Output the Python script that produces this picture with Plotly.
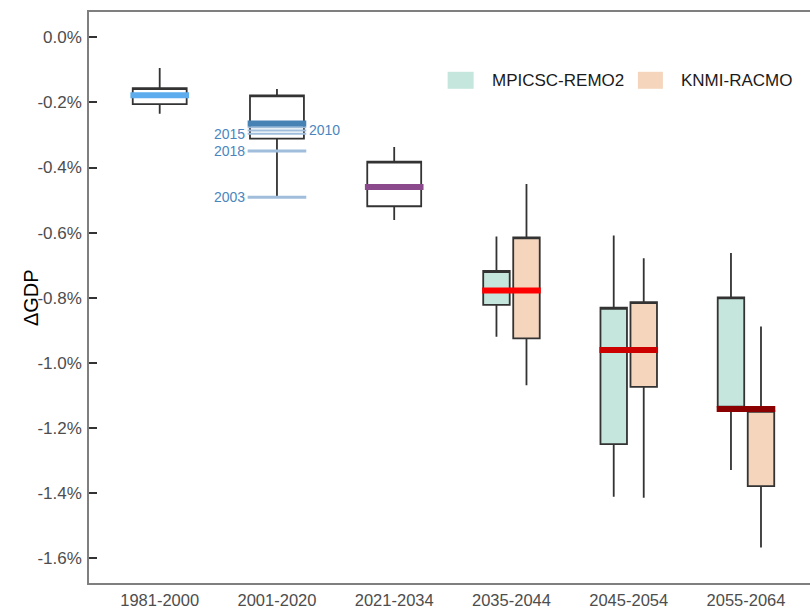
import plotly.graph_objects as go

# ---------------- data (values in % of GDP) ----------------
categories = ["1981-2000", "2001-2020", "2021-2034", "2035-2044", "2045-2054", "2055-2064"]

# single (observed / near-term) boxes: index of category
single_idx = [0, 1, 2]
single_upper = [-0.094, -0.159, -0.337]
single_q3 = [-0.156, -0.178, -0.382]
single_q1 = [-0.205, -0.311, -0.519]
single_lower = [-0.235, -0.491, -0.561]

# paired model boxes (categories 3..5)
pair_idx = [3, 4, 5]
remo_upper = [-0.612, -0.609, -0.663]
remo_q3 = [-0.718, -0.831, -0.799]
remo_q1 = [-0.822, -1.250, -1.135]
remo_lower = [-0.920, -1.412, -1.330]

racmo_upper = [-0.451, -0.679, -0.889]
racmo_q3 = [-0.615, -0.814, -1.148]
racmo_q1 = [-0.925, -1.074, -1.379]
racmo_lower = [-1.069, -1.415, -1.568]

# ensemble medians per category
medians = [-0.178, -0.265, -0.460, -0.778, -0.961, -1.142]
median_colors = ["#5CACEE", "#4682B4", "#8B4A8B", "#FF0000", "#CD0000", "#8B0000"]

# individual-year markers in the 2001-2020 period
year_labels = ["", "2010", "2015", "2018", "2003"]
year_values = [-0.276, -0.286, -0.296, -0.349, -0.491]
year_side = ["left", "right", "left", "left", "left"]
year_widths = [2, 2, 2, 3, 3]

y_tick_vals = [0.0, -0.2, -0.4, -0.6, -0.8, -1.0, -1.2, -1.4, -1.6]
y_tick_text = ["0.0%", "-0.2%", "-0.4%", "-0.6%", "-0.8%", "-1.0%", "-1.2%", "-1.4%", "-1.6%"]

series_names = ["MPICSC-REMO2", "KNMI-RACMO"]
series_fill = ["#C5E6DC", "#F5D6BD"]

# ---------------- styles ----------------
BOX_LINE = "#333333"
SINGLE_W = 0.46
PAIR_W = 0.226
PAIR_OFF = 0.128
MED_HALF = 0.25
YEAR_COLOR = "#A0BEDC"
YEAR_TEXT = "#4A86BE"
FONT = "Liberation Sans, Arial, sans-serif"

fig = go.Figure()


def add_box(x, lower, q1, q3, upper, width, fill):
    fig.add_trace(go.Box(
        x=[x], q1=[q1], median=[q3], q3=[q3],
        lowerfence=[lower], upperfence=[upper],
        width=width, whiskerwidth=0,
        fillcolor=fill, line=dict(color=BOX_LINE, width=1.8),
        boxpoints=False, showlegend=False, hoverinfo="skip",
    ))


for i, lo, a, b, up in zip(single_idx, single_lower, single_q1, single_q3, single_upper):
    add_box(i, lo, a, b, up, SINGLE_W, "rgba(255,255,255,0)")

for i, lo, a, b, up in zip(pair_idx, remo_lower, remo_q1, remo_q3, remo_upper):
    add_box(i - PAIR_OFF, lo, a, b, up, PAIR_W, series_fill[0])

for i, lo, a, b, up in zip(pair_idx, racmo_lower, racmo_q1, racmo_q3, racmo_upper):
    add_box(i + PAIR_OFF, lo, a, b, up, PAIR_W, series_fill[1])

# individual year lines (2001-2020, index 1)
for lab, v, side, w in zip(year_labels, year_values, year_side, year_widths):
    fig.add_trace(go.Scatter(
        x=[1 - MED_HALF, 1 + MED_HALF], y=[v, v], mode="lines",
        line=dict(color=YEAR_COLOR, width=w), showlegend=False, hoverinfo="skip",
    ))

# ensemble median lines
for i, (m, c) in enumerate(zip(medians, median_colors)):
    fig.add_trace(go.Scatter(
        x=[i - MED_HALF, i + MED_HALF], y=[m, m], mode="lines",
        line=dict(color=c, width=6), showlegend=False, hoverinfo="skip",
    ))

annotations = []
for lab, v, side in zip(year_labels, year_values, year_side):
    if not lab:
        continue
    if side == "left":
        annotations.append(dict(x=1 - MED_HALF, y=v, xref="x", yref="y", text=lab,
                                showarrow=False, xanchor="right", yanchor="middle",
                                xshift=-1, font=dict(size=14, color=YEAR_TEXT, family=FONT)))
    else:
        annotations.append(dict(x=1 + MED_HALF, y=v, xref="x", yref="y", text=lab,
                                showarrow=False, xanchor="left", yanchor="middle",
                                xshift=1, font=dict(size=14, color=YEAR_TEXT, family=FONT)))

# y axis title
annotations.append(dict(x=-0.081, y=0.5, xref="paper", yref="paper", text="ΔGDP",
                        showarrow=False, textangle=-90, xanchor="center", yanchor="middle",
                        font=dict(size=20, color="#000000", family=FONT)))

# manual legend
shapes = []
leg_sq_x = [(0.4974, 0.5335), (0.7613, 0.7960)]
leg_txt_x = [0.556, 0.8181]
for (x0, x1), tx, name, col in zip(leg_sq_x, leg_txt_x, series_names, series_fill):
    shapes.append(dict(type="rect", xref="paper", yref="paper", x0=x0, x1=x1,
                       y0=0.8655, y1=0.8953, fillcolor=col, line=dict(width=0)))
    annotations.append(dict(x=tx, y=0.8804, xref="paper", yref="paper", text=name,
                            showarrow=False, xanchor="left", yanchor="middle",
                            font=dict(size=17, color="#1A1A1A", family=FONT)))

fig.update_layout(
    width=810, height=608,
    margin=dict(l=89, r=0, t=12, b=25, pad=0),
    paper_bgcolor="white", plot_bgcolor="white",
    font=dict(family=FONT, color="#4D4D4D"),
    showlegend=False,
    shapes=shapes,
    annotations=annotations,
    xaxis=dict(
        range=[-0.603, 5.546], tickmode="array",
        tickvals=list(range(len(categories))), ticktext=categories,
        showgrid=False, zeroline=False, showline=True, mirror=True,
        linecolor="#7F7F7F", linewidth=1.5, ticks="",
        tickfont=dict(size=16.5, color="#4D4D4D"), automargin=False,
        ticklabelstandoff=1,
    ),
    yaxis=dict(
        range=[-1.677, 0.078], tickmode="array",
        tickvals=y_tick_vals, ticktext=y_tick_text,
        showgrid=False, zeroline=False, showline=True,
        linecolor="#7F7F7F", linewidth=1.5, ticks="inside", ticklen=8,
        tickcolor="#333333", tickwidth=1.5,
        tickfont=dict(size=17, color="#4D4D4D"), automargin=False,
        ticklabelstandoff=2,
    ),
)

fig.write_html(
    "out.html",
    config={"displayModeBar": False},
    post_script="document.body.style.margin='0';document.body.style.overflow='hidden';"
                "document.documentElement.style.overflow='hidden';",
)
